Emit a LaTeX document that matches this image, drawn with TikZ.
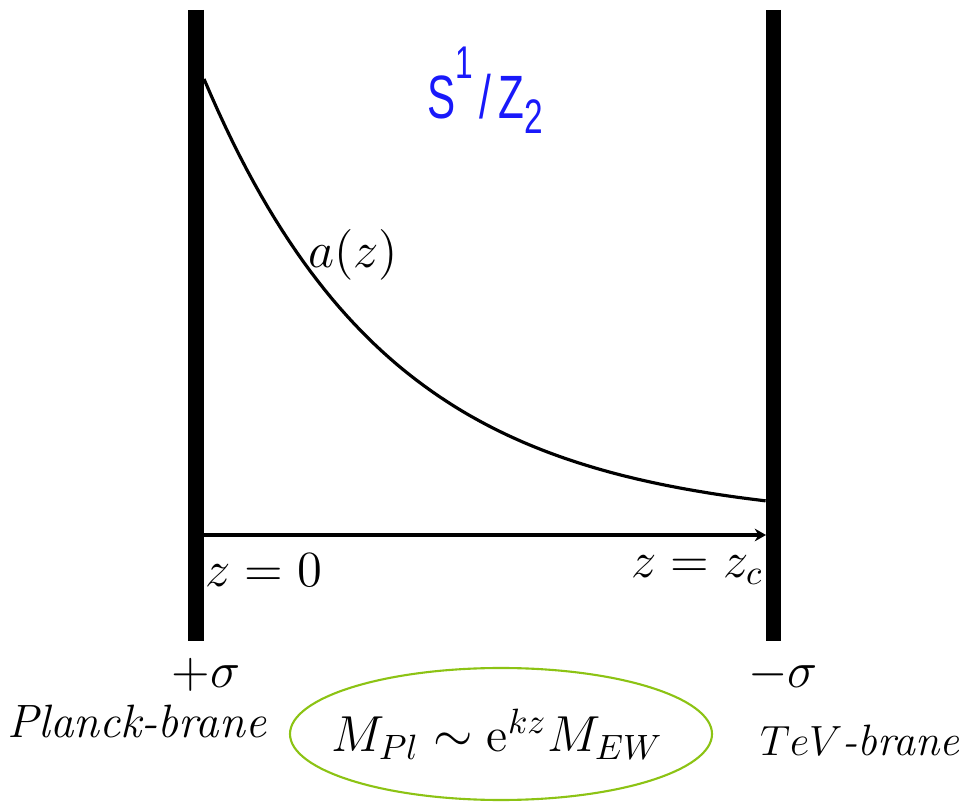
\documentclass[tikz,border=0pt]{standalone}
\usepackage{fontspec}
\newfontfamily\orbfont{Liberation Sans}
\usetikzlibrary{arrows.meta, shapes.geometric, positioning}
\definecolor{orbblue}{RGB}{25,25,250}
\definecolor{massgreen}{RGB}{140,195,20}
\newcommand{\orbsup}[1]{\raisebox{1.25ex}{\fontsize{9}{11}\selectfont #1}}
\newcommand{\orbsub}[1]{\raisebox{-0.45ex}{\fontsize{9.5}{11}\selectfont #1}}

\begin{document}
\begin{tikzpicture}[
    x=0.01cm, y=-0.01cm,
    font=\fontsize{14.5}{17}\selectfont,
    % Branes and bulk
    brane/.style={line width=0.15cm},
    warp/.style={line width=0.9pt},
    zaxis/.style={-{Stealth[length=3.2pt, width=3.6pt]}, line width=0.9pt},
    % Labels
    lbl/.style={inner sep=1pt},
    bname/.style={inner sep=1pt, font=\fontsize{13.3}{16}\selectfont},
    massbox/.style={inner sep=0pt, font=\fontsize{13.75}{16}\selectfont},
    massring/.style={draw=massgreen, line width=0.6pt}
]
\useasboundingbox (0,0) rectangle (961,804);

% ---------------------------------------------------
% 1. BRANES
% ---------------------------------------------------
\coordinate (planck_top) at (196, 10);
\coordinate (planck_bot) at (196, 641);
\coordinate (tev_top) at (773, 10);
\coordinate (tev_bot) at (773, 641);
\draw[brane] (planck_top) -- (planck_bot);
\draw[brane] (tev_top) -- (tev_bot);

% ---------------------------------------------------
% 2. WARP FACTOR AND AXIS
% ---------------------------------------------------
\draw[warp] plot[domain=0:1, samples=80] ({204+562*\x}, {79+444*(1-exp(-3*\x))});

\coordinate (z0) at (204, 535);
\coordinate (zc) at (766, 535);
\draw[zaxis] (z0) -- (zc);

% ---------------------------------------------------
% 3. LABELS
% ---------------------------------------------------
\node[font=\orbfont\fontsize{12}{14}\selectfont, text=orbblue] (orbifold) at (485, 90) {\scalebox{1}[1.45]{S\orbsup{1}\,/\,Z\orbsub{2}}};
\node[lbl] (warp_lbl) at (353, 255) {$a(z)$};
\node[lbl] (z0_lbl) at (264, 570) {$z=0$};
\node[lbl] (zc_lbl) at (697, 570) {$z=z_c$};
\node[lbl] (plus_sigma) at (206, 675) {$+\sigma$};
\node[lbl] (minus_sigma) at (783, 675) {$-\sigma$};
\node[bname] (planck_lbl) at (137, 722) {\textit{Planck-brane}};
\node[bname, font=\fontsize{12.5}{15}\selectfont] (tev_lbl) at (860, 740) {$TeV$\textit{-brane}};
\node[massbox] (hierarchy) at (497, 734) {$M_{Pl}\sim \mathrm{e}^{kz}M_{EW}$};
\draw[massring] (501, 734) ellipse [x radius=211, y radius=66];

\end{tikzpicture}
\end{document}
